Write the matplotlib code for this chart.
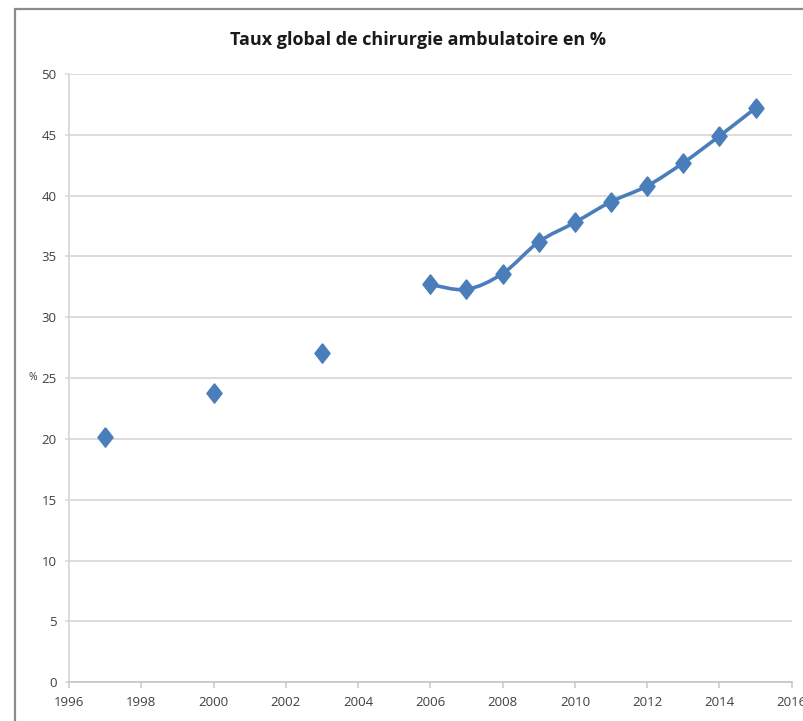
import numpy as np
import matplotlib.pyplot as plt
from matplotlib.path import Path
from matplotlib.patches import PathPatch, Rectangle

plt.rcParams['font.family'] = ['Liberation Sans Narrow', 'Open Sans', 'DejaVu Sans']

# early survey years (isolated points)
years_early = [1997, 2000, 2003]
rate_early = [20.2, 23.8, 27.1]

# annual series from 2006 (smoothed line)
years_annual = [2006, 2007, 2008, 2009, 2010, 2011, 2012, 2013, 2014, 2015]
rate_annual = [32.7, 32.3, 33.6, 36.2, 37.8, 39.5, 40.8, 42.7, 44.9, 47.2]

x_ticks = list(range(1996, 2017, 2))
y_ticks = list(range(0, 51, 5))

BLUE = '#4a7ebb'
GRID = '#d9d9d9'
# slightly tall diamond marker
DIAMOND = [(0, 1), (0.78, 0), (0, -1), (-0.78, 0), (0, 1)]


def smooth_path(xs, ys):
    # Catmull-Rom style bezier through every point, like a spreadsheet "smoothed line"
    pts = np.column_stack([xs, ys]).astype(float)
    n = len(pts)
    verts = [pts[0]]
    codes = [Path.MOVETO]
    for i in range(n - 1):
        p0 = pts[max(i - 1, 0)]
        p1 = pts[i]
        p2 = pts[i + 1]
        p3 = pts[min(i + 2, n - 1)]
        c1 = p1 + (p2 - p0) / 6.0
        c2 = p2 - (p3 - p1) / 6.0
        verts += [c1, c2, p2]
        codes += [Path.CURVE4] * 3
    return Path(verts, codes)


fig = plt.figure(figsize=(8.04, 7.21), dpi=100)

# outer chart frame
fig.patches.append(Rectangle((15.5 / 804, -0.1), 1.2, 1.1 - 8.5 / 721,
                             transform=fig.transFigure, fill=False,
                             edgecolor='#8c8c8c', linewidth=1.6))

ax = fig.add_axes([69 / 804, 1 - 682.3 / 721, (791.7 - 69) / 804, (682.3 - 74) / 721])

ax.set_xlim(1996, 2016)
ax.set_ylim(0, 50)
ax.set_xticks(x_ticks)
ax.set_yticks(y_ticks)
ax.yaxis.grid(True, color=GRID, linewidth=1.3)
ax.set_axisbelow(True)

for side in ['top', 'right']:
    ax.spines[side].set_visible(False)
ax.spines['left'].set_color(GRID)
ax.spines['left'].set_linewidth(1.3)
ax.spines['bottom'].set_color('#c8c8c8')
ax.spines['bottom'].set_linewidth(1.3)
ax.tick_params(axis='x', direction='out', length=4, width=1.1, color='#c8c8c8',
               labelsize=9.5, labelcolor='#404040', pad=6)
ax.tick_params(axis='y', direction='out', length=3, width=1.1, color=GRID,
               labelsize=9.5, labelcolor='#404040', pad=6)

ax.add_patch(PathPatch(smooth_path(years_annual, rate_annual), facecolor='none',
                       edgecolor=BLUE, linewidth=2.6, capstyle='round', zorder=3))
ax.plot(years_annual, rate_annual, linestyle='none', marker=DIAMOND, markersize=14,
        color=BLUE, zorder=4)
ax.plot(years_early, rate_early, linestyle='none', marker=DIAMOND, markersize=14,
        color=BLUE, zorder=4)

fig.text(33 / 804, 1 - 378 / 721, '%', fontsize=7.5, color='#404040', ha='center', va='center')
fig.text(418 / 804, 1 - 40 / 721, 'Taux global de chirurgie ambulatoire en %',
         fontsize=13, fontweight='bold', color='#1a1a1a', ha='center', va='center')

fig.savefig('out.png', dpi=100)
